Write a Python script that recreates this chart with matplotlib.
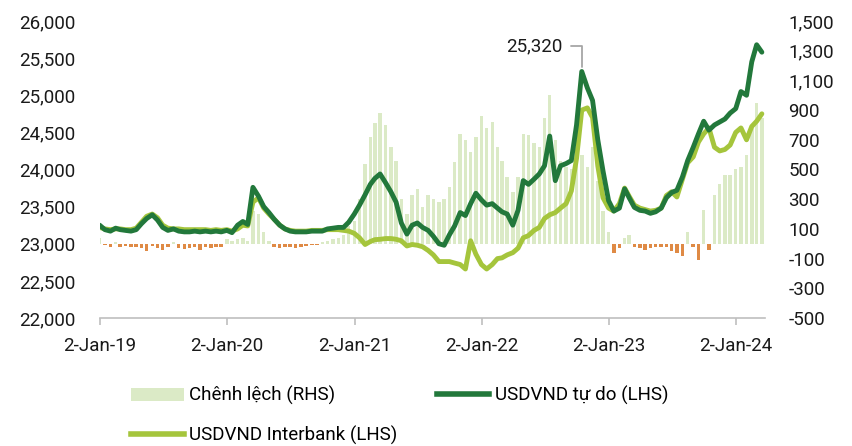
"""
Tỷ giá USDVND tự do vs liên ngân hàng (LHS) và chênh lệch (RHS), 2019-2024.
Dữ liệu đọc từ ảnh gốc, lấy mẫu ngày 1 và 16 mỗi tháng.
"""
import matplotlib

matplotlib.use("Agg")
import matplotlib.pyplot as plt
import matplotlib.ticker as mticker
from matplotlib.lines import Line2D
from matplotlib.patches import Patch
import numpy as np
import pandas as pd

plt.rcParams["font.family"] = ["Roboto", "DejaVu Sans"]

# ngày quan sát: 1 và 16 hàng tháng, 01/2019 -> 03/2024
dates = pd.to_datetime(
    [f"{y}-{m:02d}-{d:02d}" for y in range(2019, 2025) for m in range(1, 13) for d in (1, 16)][:126]
)

free_rate = [
    # 2019
    23250, 23190, 23170, 23210, 23190, 23180, 23170, 23190, 23270, 23340, 23390, 23320,
    23220, 23180, 23200, 23170, 23160, 23160, 23170, 23160, 23170, 23160, 23170, 23160,
    # 2020
    23180, 23150, 23250, 23300, 23260, 23760, 23640, 23500, 23420, 23330, 23250, 23200,
    23170, 23160, 23160, 23160, 23170, 23170, 23170, 23200, 23210, 23220, 23220, 23290,
    # 2021
    23400, 23520, 23660, 23800, 23880, 23940, 23820, 23700, 23560, 23280, 23130, 23250,
    23280, 23220, 23180, 23100, 23000, 22980, 23120, 23240, 23420, 23380, 23540, 23680,
    # 2022
    23590, 23520, 23540, 23480, 23430, 23400, 23250, 23450, 23850, 23800, 23870, 23940,
    24050, 24450, 23850, 24050, 24080, 24120, 24600, 25320, 25100, 24930, 24400, 23980,
    # 2023
    23580, 23440, 23480, 23740, 23620, 23490, 23450, 23440, 23410, 23430, 23480, 23620,
    23690, 23720, 23900, 24120, 24300, 24480, 24650, 24530, 24600, 24640, 24680, 24760,
    # 2024
    24820, 25050, 25000, 25450, 25680, 25580,
]

interbank_rate = [
    # 2019
    23220, 23200, 23190, 23200, 23200, 23190, 23190, 23210, 23290, 23370, 23400, 23350,
    23250, 23210, 23200, 23200, 23190, 23190, 23190, 23190, 23190, 23180, 23190, 23180,
    # 2020
    23190, 23170, 23200, 23250, 23240, 23560, 23620, 23480, 23400, 23330, 23250, 23200,
    23180, 23170, 23170, 23170, 23180, 23180, 23180, 23190, 23190, 23190, 23180, 23170,
    # 2021
    23140, 23080, 22990, 23030, 23055, 23060, 23070, 23070, 23060, 23040, 22970, 22990,
    22980, 22960, 22910, 22850, 22760, 22760, 22760, 22740, 22720, 22660, 23040, 22860,
    # 2022
    22720, 22660, 22720, 22800, 22810, 22850, 22880, 22940, 23080, 23110, 23180, 23220,
    23340, 23390, 23420, 23480, 23540, 23710, 24150, 24800, 24830, 24700, 24050, 23620,
    # 2023
    23480, 23440, 23540, 23750, 23640, 23520, 23480, 23460, 23440, 23450, 23480, 23650,
    23700, 23630, 23870, 24090, 24170, 24370, 24480, 24560, 24300, 24250, 24270, 24330,
    # 2024
    24500, 24560, 24400, 24580, 24650, 24750,
]

spread = [
    # 2019
    40, -10, -20, 10, -25, -15, -20, -20, -30, -50, -15, -30,
    -40, -25, 10, -30, -35, -30, -20, -40, -25, -30, -20, -25,
    # 2020
    30, 20, 30, 40, 20, 220, 200, 80, 20, -20, -30, -25,
    -20, -30, -25, -15, -10, -10, 15, 20, 30, 40, 60, 120,
    # 2021
    150, 300, 540, 720, 810, 880, 800, 650, 560, 300, 200, 330,
    370, 250, 330, 300, 280, 300, 380, 550, 740, 700, 620, 720,
    # 2022
    860, 780, 820, 650, 560, 450, 350, 450, 740, 730, 680, 650,
    850, 1000, 700, 560, 520, 500, 650, 600, 520, 650, 420, 220,
    # 2023
    80, -60, -30, 40, 60, -20, -30, -40, -30, -20, -25, -20,
    -50, -60, -80, 80, -20, -110, 230, -40, 330, 400, 460, 460,
    # 2024
    500, 520, 600, 800, 950, 850,
]

tick_dates = pd.to_datetime([f"{y}-01-02" for y in range(2019, 2025)])
tick_labels = [f"2-Jan-{y % 100:02d}" for y in range(2019, 2025)]

DARK = "#22783b"
LIGHT = "#a5c53c"
BAR_POS = "#dbeac6"
BAR_NEG = "#df8a45"
GREY = "#a6a6a6"
FS = 13.5

fig = plt.figure(figsize=(8.52, 4.46), dpi=100)
ax = fig.add_axes([100 / 852, 1 - 318 / 446, 665 / 852, 297 / 446])
ax2 = ax.twinx()
ax.set_zorder(ax2.get_zorder() + 1)
ax.patch.set_visible(False)

sp = np.array(spread)
ax2.bar(dates, sp, width=10, color=np.where(sp >= 0, BAR_POS, BAR_NEG), linewidth=0)
ax.plot(dates, interbank_rate, color=LIGHT, lw=3.5, solid_capstyle="round", solid_joinstyle="round")
ax.plot(dates, free_rate, color=DARK, lw=3.5, solid_capstyle="round", solid_joinstyle="round")

# nhãn đỉnh năm 2022 của giá tự do
in_2022 = np.where(dates.year == 2022)[0]
i_pk = in_2022[int(np.argmax(np.array(free_rate)[in_2022]))]
ax.annotate(
    f"{free_rate[i_pk]:,}",
    xy=(dates[i_pk], free_rate[i_pk]),
    xytext=(-14, 18), textcoords="offset points",
    ha="right", va="center", fontsize=FS, color="#1a1a1a",
    arrowprops=dict(arrowstyle="-", color=GREY, lw=1.3, shrinkA=4, shrinkB=3,
                    connectionstyle="angle,angleA=0,angleB=90,rad=0"),
)

ax.set_ylim(22000, 26000)
ax.set_yticks(np.arange(22000, 26001, 500))
ax.yaxis.set_major_formatter(mticker.FuncFormatter(lambda v, p: f"{v:,.0f}"))
ax2.set_ylim(-500, 1500)
ax2.set_yticks(np.arange(-500, 1501, 200))
ax2.yaxis.set_major_formatter(mticker.FuncFormatter(lambda v, p: f"{v:,.0f}"))

ax.set_xlim(pd.Timestamp("2019-01-02"), pd.Timestamp("2024-03-25"))
ax.set_xticks(tick_dates)
ax.set_xticklabels(tick_labels)

for a in (ax, ax2):
    for s in a.spines.values():
        s.set_visible(False)
    a.tick_params(axis="y", length=0, labelsize=FS, colors="#1a1a1a")
ax.spines["bottom"].set_visible(True)
ax.spines["bottom"].set_color("#bfbfbf")
ax.spines["bottom"].set_linewidth(1.2)
ax.tick_params(axis="y", pad=18)
ax2.tick_params(axis="y", pad=17)
ax.tick_params(axis="x", length=5, width=1.2, color="#bfbfbf", pad=9, labelsize=FS, labelcolor="#1a1a1a")

handles = [
    Patch(facecolor=BAR_POS, edgecolor="none", label="Chênh lệch (RHS)"),
    Line2D([], [], color=LIGHT, lw=4, label="USDVND Interbank (LHS)"),
    Line2D([], [], color=DARK, lw=4, label="USDVND tự do (LHS)"),
]
fig.legend(handles=handles, ncol=2, loc="upper left", bbox_to_anchor=(131 / 852, 1 - 386 / 446),
           frameon=False, fontsize=FS, handlelength=2.8, handletextpad=0.3, columnspacing=2.1,
           labelspacing=1.08, borderpad=0, borderaxespad=0)

fig.savefig("out.png", dpi=100)
